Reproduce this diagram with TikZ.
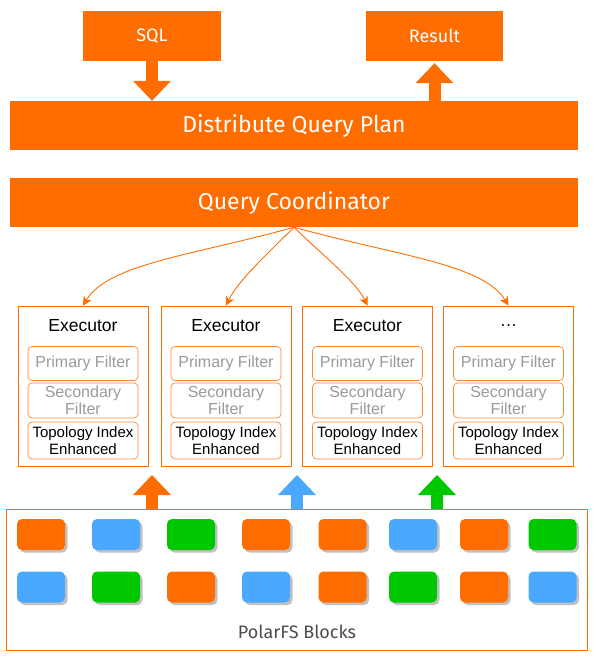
\documentclass[tikz,border=0pt]{standalone}
\usepackage{fontspec}
\setmainfont{Liberation Sans}
\newfontfamily\barfont{Fira Sans}
\usetikzlibrary{arrows.meta,calc,positioning,shadows}
\definecolor{aliOrange}{HTML}{FF6C00}
\definecolor{blkBlue}{HTML}{4AA8FF}
\definecolor{blkGreen}{HTML}{00C800}
\definecolor{filterGray}{HTML}{9A9A9A}
\tikzset{
  planBar/.style={fill=aliOrange, text=white, inner sep=0pt, minimum width=568pt, minimum height=49pt, font=\barfont\fontsize{23}{26}\selectfont},
  ioBox/.style={fill=aliOrange, text=white, inner sep=0pt, minimum width=138pt, minimum height=50pt, font=\barfont\fontsize{18}{21}\selectfont},
  execBox/.style={draw=aliOrange, line width=0.7pt, inner sep=0pt, minimum width=130pt, minimum height=160pt},
  execTitle/.style={font=\fontsize{17.5}{19}\selectfont, inner sep=0pt},
  filterBox/.style={draw=aliOrange!80, line width=0.7pt, rounded corners=4pt, inner sep=0pt, minimum width=110pt, align=center, font=\fontsize{15}{17}\selectfont},
  fatArrow/.style={draw=#1, line width=12pt, -{Triangle[length=20pt,width=38pt,line width=0pt]}},
  fanArrow/.style={draw=aliOrange, line width=0.9pt, -{Stealth[length=9pt,width=9pt,inset=2.5pt]}},
  blockCell/.style={fill=#1, rounded corners=5pt, minimum width=48pt, minimum height=31pt, inner sep=0pt, drop shadow={shadow xshift=2.5pt, shadow yshift=-2.5pt, fill=black!35, opacity=0.7}},
  poolBox/.style={draw=aliOrange, line width=0.7pt, inner sep=0pt, minimum width=581pt, minimum height=141pt}
}
\begin{document}
\begin{tikzpicture}[x=1pt, y=-1pt]
  \useasboundingbox (0,0) rectangle (596,657);
  % query in, result out
  \node[ioBox] (sql) at (152,36) {SQL};
  \node[ioBox, minimum width=137pt] (result) at (434.5,36) {Result};
  \node[planBar] (plan) at (294,125.5) {Distribute Query Plan};
  \node[planBar] (coord) at (294,202.5) {Query Coordinator};
  \draw[fatArrow=aliOrange] (sql.south) -- (sql.south |- plan.north);
  \draw[fatArrow=aliOrange] (result.south |- plan.north) -- ([yshift=-2pt]result.south);
  % executors
  \foreach \x/\lbl [count=\i] in {83/Executor, 226/Executor, 367.5/Executor, 508.5/\ldots}{
    \node[execBox] (ex\i) at (\x,386) {};
    \node[execTitle] (ex\i-title) at (\x,326) {\lbl};
    \node[filterBox, minimum height=34pt, text=filterGray, font=\fontsize{16}{17}\selectfont] (ex\i-pf) at (\x,363.5) {Primary Filter};
    \node[filterBox, minimum height=35pt, text=filterGray, font=\fontsize{16}{17}\selectfont] (ex\i-sf) at (\x,400.5) {Secondary\\Filter};
    \node[filterBox, minimum height=37pt] (ex\i-ti) at (\x,440.5) {Topology Index\\Enhanced};
  }
  \draw[fanArrow] (coord.south) .. controls ($(coord.south)+(-100,28)$) and ($(ex1.north)+(25,-42)$) .. (ex1.north);
  \draw[fanArrow] (coord.south) .. controls ($(coord.south)+(-25,25)$) and ($(ex2.north)+(12,-25)$) .. (ex2.north);
  \draw[fanArrow] (coord.south) .. controls ($(coord.south)+(25,25)$) and ($(ex3.north)+(-12,-25)$) .. (ex3.north);
  \draw[fanArrow] (coord.south) .. controls ($(coord.south)+(100,28)$) and ($(ex4.north)+(-25,-42)$) .. (ex4.north);
  % storage blocks
  \node[poolBox] (pool) at (296.5,579.5) {};
  \node[font=\barfont\fontsize{18}{21}\selectfont, text=black!70] (poolLabel) at (297,632) {PolarFS Blocks};
  \foreach \x/\c [count=\i] in {41/aliOrange, 116/blkBlue, 191/blkGreen, 266/aliOrange, 342.5/aliOrange, 413/blkBlue, 484/aliOrange, 552.5/blkGreen}
    \node[blockCell=\c] (top\i) at (\x,534.5) {};
  \foreach \x/\c [count=\i] in {41/blkBlue, 116/blkGreen, 191/aliOrange, 266/blkBlue, 342.5/aliOrange, 413/blkGreen, 484/aliOrange, 552.5/blkBlue}
    \node[blockCell=\c] (bot\i) at (\x,587) {};
  \coordinate (tipA) at (152,475);
  \coordinate (tipB) at (297,475);
  \coordinate (tipC) at (437,475);
  \draw[fatArrow=aliOrange] (pool.north -| tipA) -- (tipA);
  \draw[fatArrow=blkBlue] (pool.north -| tipB) -- (tipB);
  \draw[fatArrow=blkGreen] (pool.north -| tipC) -- (tipC);
\end{tikzpicture}
\end{document}
